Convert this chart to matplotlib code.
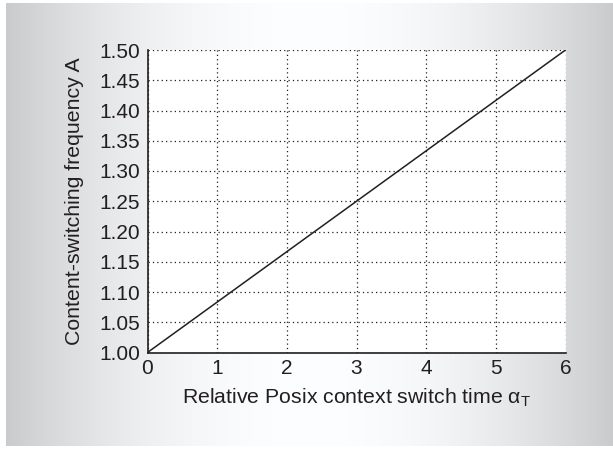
import numpy as np
import matplotlib
matplotlib.use("Agg")
import matplotlib.pyplot as plt

x_vals = [0, 6]
y_vals = [1.00, 1.50]
x_ticks = [0, 1, 2, 3, 4, 5, 6]
y_ticks = [1.00, 1.05, 1.10, 1.15, 1.20, 1.25, 1.30, 1.35, 1.40, 1.45, 1.50]
x_label = r"Relative Posix context switch time α$_\mathregular{T}$"
y_label = "Content-switching frequency A"

plt.rcParams['font.family'] = ['Liberation Sans', 'DejaVu Sans']
plt.rcParams['mathtext.fontset'] = 'custom'
plt.rcParams['mathtext.rm'] = 'Liberation Sans'
plt.rcParams['mathtext.it'] = 'Liberation Sans:italic'

W, H = 613, 449
fig = plt.figure(figsize=(W/100, H/100), dpi=100)
fig.patch.set_facecolor('white')

# gradient background panel
bg = fig.add_axes([6/W, 3/H, 607/W, 443/H])
xs = np.linspace(0, 1, 400)
prof = np.clip(1 - ((xs - 0.5) / 0.5) ** 2, 0, 1)
vals = 0.80 + 0.20 * prof
img = np.tile(vals, (10, 1))
bg.imshow(np.dstack([img*0.99, img*0.995, img]), aspect='auto', extent=[0, 1, 0, 1])
bg.set_axis_off()

ax = fig.add_axes([147.5/W, 1 - 352.5/H, (565.5-147.5)/W, (352.5-50)/H])
ax.set_facecolor('white')
ax.plot(x_vals, y_vals, color='#231f20', lw=1.1, zorder=3)
ax.set_xlim(0, 6)
ax.set_ylim(1.0, 1.5)
ax.set_xticks(x_ticks)
ax.set_yticks(y_ticks)
ax.set_xticklabels([str(t) for t in x_ticks])
ax.set_yticklabels([f"{t:.2f}" for t in y_ticks])
ax.grid(True, color='#231f20', linestyle=(0, (1, 2.5)), lw=0.9)
for s in ['top', 'right']:
    ax.spines[s].set_visible(False)
for s in ['left', 'bottom']:
    ax.spines[s].set_color('#231f20')
    ax.spines[s].set_linewidth(1.2)
ax.tick_params(length=0, labelsize=15, colors='#231f20')
ax.tick_params(axis='y', pad=5.5)
ax.tick_params(axis='x', pad=5)
ax.set_xlabel(x_label, fontsize=15.3, color='#231f20', labelpad=6)
ax.set_ylabel(y_label, fontsize=15.3, color='#231f20', labelpad=11)

fig.savefig('out.png', dpi=100)
